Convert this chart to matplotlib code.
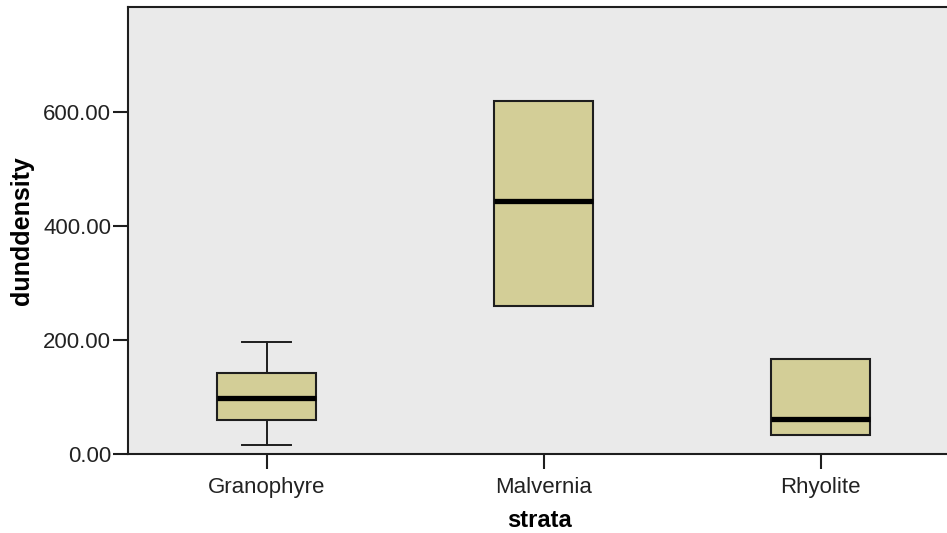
import matplotlib
matplotlib.use('Agg')
import matplotlib.pyplot as plt

# Box summary per stratum (whisker low, Q1, median, Q3, whisker high)
strata = ['Granophyre', 'Malvernia', 'Rhyolite']
whisker_low = [15.0, 260.0, 34.0]
q1 = [60.0, 260.0, 34.0]
median = [99.0, 443.0, 61.0]
q3 = [142.0, 620.0, 166.0]
whisker_high = [197.0, 620.0, 166.0]
yticks = [0, 200, 400, 600]

plt.rcParams['font.family'] = ['Liberation Sans', 'DejaVu Sans']

BOX_FILL = '#D3CE97'
EDGE = '#1e1e1e'

fig = plt.figure(figsize=(9.47, 5.33), dpi=100)
ax = fig.add_axes([0.1352, 0.1482, 0.8775, 0.8386])
ax.set_facecolor('#EAEAEA')

stats = []
for name, lo, a, m, b, hi in zip(strata, whisker_low, q1, median, q3, whisker_high):
    stats.append({'label': name, 'whislo': lo, 'q1': a, 'med': m, 'q3': b,
                  'whishi': hi, 'fliers': []})

ax.bxp(stats, positions=[1, 2, 3], widths=0.36, capwidths=0.18,
       patch_artist=True, showfliers=False,
       boxprops=dict(facecolor=BOX_FILL, edgecolor=EDGE, linewidth=1.5),
       medianprops=dict(color='black', linewidth=3.8, solid_capstyle='butt'),
       whiskerprops=dict(color=EDGE, linewidth=1.4),
       capprops=dict(color=EDGE, linewidth=1.4))

ax.set_xlim(0.5, 3.5)
ax.set_ylim(0, 784)
ax.set_yticks(yticks)
ax.set_yticklabels([f'{v:.2f}' for v in yticks])

for side in ['left', 'bottom', 'top']:
    ax.spines[side].set_color(EDGE)
    ax.spines[side].set_linewidth(1.5)
ax.spines['right'].set_visible(False)

ax.tick_params(axis='both', colors=EDGE, labelcolor='#222222', labelsize=16,
               length=11, width=1.5)
ax.tick_params(axis='y', pad=1)
ax.tick_params(axis='x', pad=5.5)

ax.set_xlabel('strata', fontsize=17, fontweight='bold', va='center')
ax.xaxis.set_label_coords(0.495, -0.1477)
ax.set_ylabel('dunddensity', fontsize=18, fontweight='bold', va='center')
ax.yaxis.set_label_coords(-0.127, 0.5)

fig.savefig('out.png', dpi=100)
